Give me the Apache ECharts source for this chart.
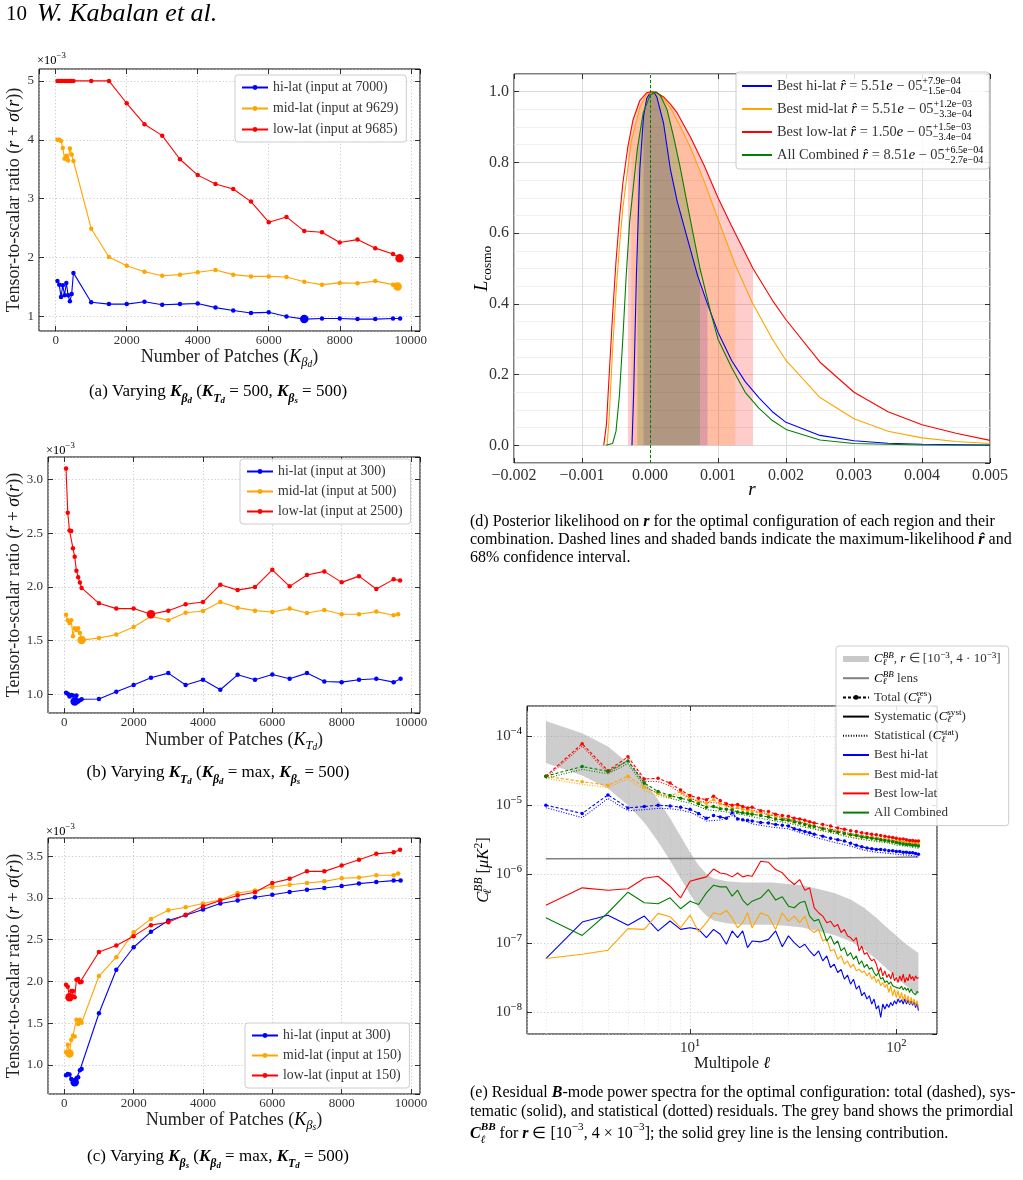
<!DOCTYPE html>
<html>
<head>
<meta charset="utf-8">
<title>Residuals and likelihoods</title>
<script src="https://cdn.jsdelivr.net/npm/echarts@6.0.0/dist/echarts.min.js"></script>
<style>
  html, body { margin: 0; padding: 0; background: #fff; }
  #fig { width: 1023px; height: 1180px; }
</style>
</head>
<body>
<div id="fig"></div>
<script>
// ---------- panels (a)-(c): r + sigma(r) in units of 1e-3 vs number of patches ----------
const patches = [50, 100, 150, 200, 250, 300, 350, 400, 450, 500, 1000, 1500, 2000, 2500, 3000, 3500,
  4000, 4500, 5000, 5500, 6000, 6500, 7000, 7500, 8000, 8500, 9000, 9500];
const maxPatches = [9700, 9629, 9685]; // last point per region: hi, mid, low

const inputA = [7000, 9629, 9685];
const aHi = [1.60, 1.54, 1.33, 1.53, 1.36, 1.57, 1.36, 1.26, 1.38, 1.74, 1.24, 1.21, 1.21, 1.25, 1.20, 1.21, 1.22, 1.15, 1.10, 1.06, 1.07, 1.00, 0.955, 0.965, 0.965, 0.955, 0.955, 0.965, 0.965];
const aMid = [4.00, 4.00, 3.98, 3.86, 3.68, 3.73, 3.65, 3.85, 3.75, 3.64, 2.49, 2.01, 1.86, 1.76, 1.69, 1.71, 1.75, 1.79, 1.71, 1.68, 1.68, 1.67, 1.59, 1.54, 1.57, 1.565, 1.60, 1.54, 1.51];
const aLow = [5, 5, 5, 5, 5, 5, 5, 5, 5, 5, 5.00, 5.00, 4.62, 4.265, 4.07, 3.67, 3.40, 3.25, 3.165, 2.95, 2.60, 2.69, 2.45, 2.43, 2.255, 2.305, 2.16, 2.06, 1.99];

const inputB = [300, 500, 2500];
const bHi = [1.015, 1.005, 0.98, 0.995, 0.99, 0.935, 0.99, 0.935, 0.945, 0.955, 0.957, 1.025, 1.087, 1.155, 1.198, 1.087, 1.136, 1.043, 1.182, 1.136, 1.185, 1.145, 1.198, 1.12, 1.114, 1.136, 1.145, 1.114, 1.145];
const bMid = [1.74, 1.69, 1.665, 1.69, 1.54, 1.615, 1.60, 1.615, 1.57, 1.505, 1.525, 1.556, 1.627, 1.726, 1.689, 1.76, 1.776, 1.859, 1.807, 1.779, 1.767, 1.798, 1.757, 1.785, 1.745, 1.745, 1.77, 1.736, 1.745];
const bLow = [3.10, 2.69, 2.525, 2.52, 2.36, 2.28, 2.15, 2.09, 2.04, 1.99, 1.847, 1.798, 1.798, 1.745, 1.779, 1.838, 1.859, 2.02, 1.97, 1.998, 2.159, 2.005, 2.11, 2.144, 2.042, 2.10, 1.98, 2.07, 2.06];

const inputC = [300, 150, 150];
const cHi = [0.875, 0.89, 0.885, 0.83, 0.81, 0.79, 0.84, 0.85, 0.935, 0.95, 1.618, 2.14, 2.41, 2.595, 2.73, 2.794, 2.862, 2.934, 2.97, 3.01, 3.04, 3.073, 3.10, 3.12, 3.145, 3.173, 3.193, 3.209, 3.209];
const cMid = [1.15, 1.24, 1.135, 1.30, 1.35, 1.34, 1.54, 1.49, 1.54, 1.505, 2.065, 2.29, 2.59, 2.75, 2.854, 2.89, 2.934, 2.98, 3.06, 3.09, 3.133, 3.16, 3.18, 3.20, 3.237, 3.245, 3.273, 3.273, 3.293];
const cLow = [1.96, 1.935, 1.81, 1.885, 1.885, 1.81, 2.02, 2.03, 1.99, 1.995, 2.352, 2.431, 2.543, 2.675, 2.71, 2.80, 2.90, 2.97, 3.03, 3.07, 3.18, 3.23, 3.32, 3.32, 3.39, 3.46, 3.53, 3.55, 3.58];

// ---------- panel (d): posterior likelihood ----------
const rHi = [-0.000265, -0.00024, -0.0002, -0.00015, -0.0000949, -0.00005, 0.0, 0.0000551, 0.0001, 0.0002, 0.0003, 0.0004, 0.0005, 0.0006, 0.0007, 0.000845, 0.001, 0.0012, 0.0014, 0.0016, 0.0018, 0.002, 0.0025, 0.003, 0.0035, 0.004, 0.005];
const lHi = [0, 0.15, 0.48, 0.78, 0.93, 0.98, 0.997, 1.0, 0.985, 0.91, 0.78, 0.69, 0.62, 0.55, 0.48, 0.40, 0.32, 0.24, 0.18, 0.135, 0.095, 0.065, 0.028, 0.013, 0.006, 0.003, 0.0005];
const rMid = [-0.00063, -0.0006, -0.00055, -0.0005, -0.00045, -0.0004, -0.000275, -0.00015, -0.00005, 0.0000551, 0.00015, 0.0003, 0.00045, 0.0006, 0.0008, 0.001, 0.001255, 0.0015, 0.0018, 0.002, 0.0025, 0.003, 0.0035, 0.004, 0.0045, 0.005];
const lMid = [0, 0.08, 0.27, 0.43, 0.56, 0.67, 0.86, 0.955, 0.993, 1.0, 0.99, 0.955, 0.9, 0.84, 0.745, 0.64, 0.51, 0.405, 0.30, 0.24, 0.135, 0.075, 0.04, 0.021, 0.011, 0.005];
const rLow = [-0.00068, -0.00064, -0.0006, -0.00055, -0.0005, -0.00045, -0.0004, -0.000325, -0.00025, -0.00015, -0.00005, 0.000015, 0.0001, 0.0002, 0.0003, 0.0004, 0.0006, 0.0008, 0.001, 0.0012, 0.001515, 0.0018, 0.002, 0.0025, 0.003, 0.0035, 0.004, 0.0045, 0.005];
const lLow = [0, 0.06, 0.2, 0.37, 0.52, 0.64, 0.74, 0.845, 0.92, 0.975, 0.997, 1.0, 0.997, 0.985, 0.965, 0.94, 0.87, 0.79, 0.70, 0.62, 0.50, 0.41, 0.355, 0.235, 0.15, 0.095, 0.058, 0.034, 0.014];
const rAll = [-0.00065, -0.00055, -0.0005, -0.00045, -0.0004, -0.00035, -0.0003, -0.000185, -0.0001, 0.0, 0.0000851, 0.00015, 0.00025, 0.00035, 0.00045, 0.00055, 0.000735, 0.0009, 0.001, 0.0012, 0.0014, 0.0016, 0.0018, 0.002, 0.0025, 0.003, 0.004, 0.005];
const lAll = [0, 0.005, 0.04, 0.14, 0.3, 0.48, 0.63, 0.84, 0.94, 0.99, 1.0, 0.99, 0.95, 0.87, 0.78, 0.68, 0.5, 0.37, 0.30, 0.22, 0.15, 0.105, 0.07, 0.045, 0.015, 0.005, 0.001, 0.0];
// best fit and 68% interval, as in the legend
const rHat = [5.51e-5, 5.51e-5, 1.50e-5, 8.51e-5];   // hi, mid, low, all
const errUp = [7.9e-4, 1.2e-3, 1.5e-3, 6.5e-4];
const errDn = [1.5e-4, 3.3e-4, 3.4e-4, 2.7e-4];

// ---------- panel (e): residual BB spectra ----------
const ellS = [2, 3, 4, 5, 6, 7, 8, 9, 10, 11, 12, 13, 14, 15, 16, 17, 18, 19, 20, 22, 24, 26, 28, 30, 32, 34, 36, 38, 40,
  42, 44, 46, 48, 50, 52, 54, 56, 58, 60, 62, 64, 66, 68, 70, 72, 74, 76, 78, 80, 82, 84, 86, 88, 90, 92, 94, 96, 98, 100,
  102, 104, 106, 108, 110, 112, 114, 116, 118, 120, 122, 124, 126, 128];
const sysHi = [6.01e-8, 2.03e-7, 2.54e-7, 1.82e-7, 2.48e-7, 1.51e-7, 2.10e-7, 1.59e-7, 1.68e-7, 1.59e-7, 1.21e-7, 1.59e-7, 1.35e-7, 9.68e-8, 1.51e-7, 1.21e-7, 1.51e-7, 8.65e-8, 1.08e-7,
  1.05e-7, 1.14e-7, 1.51e-7, 8.91e-8, 1.28e-7, 1.02e-7, 8.65e-8, 9.68e-8, 7.74e-8, 6.56e-8,
  7.74e-8, 5.56e-8, 6.56e-8, 4.46e-8, 4.98e-8, 3.78e-8, 4.17e-8, 3.03e-8, 3.47e-8, 2.56e-8, 3.02e-8, 2.17e-8, 2.43e-8, 1.74e-8, 1.95e-8, 1.56e-8, 1.74e-8, 1.32e-8, 1.56e-8, 1.12e-8, 1.25e-8, 8.47e-9,
  1.32e-8, 1.12e-8, 1.32e-8, 1.18e-8, 1.39e-8, 1.25e-8, 1.47e-8, 1.32e-8, 1.56e-8, 1.39e-8, 1.52e-8, 1.32e-8, 1.56e-8, 1.32e-8, 1.51e-8, 1.29e-8, 1.48e-8, 1.26e-8, 1.45e-8, 1.17e-8, 1.38e-8, 1.06e-8];
const sysMid = [6.01e-8, 6.93e-8, 7.94e-8, 1.63e-7, 1.59e-7, 2.71e-7, 2.43e-7, 1.68e-7, 2.56e-7, 1.46e-7, 1.99e-7, 2.77e-7, 2.62e-7, 2.99e-7, 2.34e-7, 1.68e-7, 1.99e-7, 2.77e-7, 1.68e-7,
  2.77e-7, 2.48e-7, 1.59e-7, 2.77e-7, 2.10e-7, 2.48e-7, 1.99e-7, 2.48e-7, 1.59e-7, 1.43e-7,
  1.58e-7, 1.08e-7, 1.15e-7, 7.74e-8, 8.13e-8, 5.87e-8, 6.61e-8, 4.98e-8, 5.56e-8, 4.46e-8, 4.98e-8, 3.99e-8, 4.22e-8, 3.78e-8, 3.98e-8, 3.38e-8, 3.78e-8, 3.03e-8, 3.38e-8, 2.71e-8, 3.03e-8, 2.43e-8,
  2.71e-8, 2.30e-8, 2.56e-8, 1.94e-8, 2.43e-8, 1.74e-8, 2.17e-8, 1.64e-8, 2.06e-8, 1.56e-8, 1.95e-8, 1.47e-8, 1.84e-8, 1.39e-8, 1.74e-8, 1.32e-8, 1.65e-8, 1.32e-8, 1.56e-8, 1.25e-8, 1.48e-8, 1.18e-8];
const sysLow = [3.57e-7, 6.35e-7, 5.87e-7, 6.17e-7, 8.75e-7, 9.35e-7, 6.71e-7, 4.56e-7, 7.94e-7, 8.57e-7, 9.16e-7, 1.19e-6, 1.04e-6, 1.01e-6, 9.16e-7, 1.04e-6, 9.16e-7, 9.57e-7, 9.35e-7,
  1.54e-6, 1.49e-6, 1.17e-6, 1.05e-6, 8.37e-7, 7.10e-7, 8.37e-7, 5.87e-7, 6.35e-7, 3.27e-7,
  2.77e-7, 2.48e-7, 1.99e-7, 2.09e-7, 1.74e-7, 1.87e-7, 1.43e-7, 1.59e-7, 1.28e-7, 1.21e-7, 1.08e-7, 1.21e-7, 7.76e-8, 9.12e-8, 6.93e-8, 7.33e-8, 6.21e-8, 5.56e-8, 5.89e-8, 4.98e-8, 3.78e-8, 4.46e-8,
  3.38e-8, 3.99e-8, 3.20e-8, 3.57e-8, 3.03e-8, 3.78e-8, 2.86e-8, 3.20e-8, 2.71e-8, 3.38e-8, 2.86e-8, 3.57e-8, 2.71e-8, 3.20e-8, 2.86e-8, 3.57e-8, 3.03e-8, 3.30e-8, 2.86e-8, 3.38e-8, 3.09e-8, 3.20e-8];
const sysAll = [2.34e-7, 1.30e-7, 2.77e-7, 5.50e-7, 3.86e-7, 3.73e-7, 4.56e-7, 3.16e-7, 4.07e-7, 3.65e-7, 5.37e-7, 6.93e-7, 6.56e-7, 6.56e-7, 4.81e-7, 5.87e-7, 4.22e-7, 3.57e-7, 4.07e-7,
  4.56e-7, 6.01e-7, 4.22e-7, 4.71e-7, 3.45e-7, 3.27e-7, 3.86e-7, 4.07e-7, 2.48e-7, 2.10e-7,
  2.22e-7, 1.59e-7, 1.08e-7, 1.28e-7, 9.68e-8, 1.08e-7, 7.74e-8, 8.65e-8, 6.56e-8, 7.33e-8, 5.87e-8, 6.56e-8, 4.98e-8, 5.56e-8, 4.46e-8, 4.98e-8, 4.22e-8, 4.46e-8, 3.78e-8, 3.38e-8, 3.78e-8, 3.03e-8,
  3.20e-8, 2.71e-8, 2.86e-8, 2.56e-8, 2.77e-8, 2.43e-8, 2.56e-8, 2.30e-8, 2.43e-8, 2.22e-8, 2.40e-8, 2.12e-8, 2.29e-8, 2.07e-8, 2.24e-8, 1.94e-8, 2.19e-8, 1.95e-8, 2.04e-8, 1.80e-8, 2.00e-8, 1.94e-8];

const ellT = [2, 3, 4, 5, 6, 7, 8, 9, 10, 11, 12, 13, 14, 15, 16, 17, 18, 19, 20, 22, 24, 26, 28, 30, 32, 34, 36, 38, 40,
  44, 48, 52, 56, 60, 64, 68, 72, 76, 80, 84, 88, 92, 96, 100, 104, 108, 112, 116, 120, 124, 128];
const totHi = [1.00e-5, 7.59e-6, 1.41e-5, 9.12e-6, 9.55e-6, 1.00e-5, 9.77e-6, 9.33e-6, 8.71e-6, 7.59e-6, 6.46e-6, 7.08e-6, 6.76e-6, 6.46e-6, 7.76e-6, 6.31e-6, 6.17e-6, 6.03e-6, 5.89e-6,
  5.62e-6, 5.50e-6, 5.25e-6, 5.13e-6, 5.01e-6, 4.57e-6, 4.37e-6, 4.17e-6, 3.98e-6, 3.80e-6,
  3.55e-6, 3.31e-6, 3.16e-6, 3.02e-6, 2.82e-6, 2.63e-6, 2.51e-6, 2.40e-6, 2.34e-6, 2.29e-6, 2.29e-6, 2.24e-6, 2.19e-6, 2.19e-6, 2.14e-6, 2.14e-6, 2.09e-6, 2.09e-6, 2.04e-6, 2.04e-6, 2.00e-6, 1.95e-6];
const totMid = [2.63e-5, 2.19e-5, 1.95e-5, 2.63e-5, 1.82e-5, 1.48e-5, 1.35e-5, 1.58e-5, 1.26e-5, 1.12e-5, 1.07e-5, 1.20e-5, 1.05e-5, 1.00e-5, 8.91e-6, 9.33e-6, 8.71e-6, 8.32e-6, 8.13e-6,
  7.59e-6, 7.24e-6, 6.92e-6, 6.46e-6, 6.31e-6, 5.89e-6, 5.62e-6, 5.37e-6, 5.13e-6, 5.01e-6,
  4.68e-6, 4.37e-6, 4.17e-6, 3.98e-6, 3.80e-6, 3.72e-6, 3.55e-6, 3.47e-6, 3.39e-6, 3.31e-6, 3.24e-6, 3.16e-6, 3.09e-6, 3.02e-6, 3.02e-6, 2.95e-6, 2.88e-6, 2.88e-6, 2.82e-6, 2.82e-6, 2.75e-6, 2.75e-6];
const totLow = [2.63e-5, 7.76e-5, 3.16e-5, 5.01e-5, 2.40e-5, 2.45e-5, 2.09e-5, 1.66e-5, 1.38e-5, 1.26e-5, 1.20e-5, 1.35e-5, 1.17e-5, 1.05e-5, 1.00e-5, 1.02e-5, 9.55e-6, 9.12e-6, 9.33e-6,
  8.32e-6, 8.13e-6, 7.41e-6, 7.08e-6, 6.92e-6, 6.46e-6, 6.31e-6, 6.03e-6, 5.75e-6, 5.50e-6,
  5.25e-6, 5.01e-6, 4.68e-6, 4.47e-6, 4.27e-6, 4.17e-6, 3.98e-6, 3.89e-6, 3.80e-6, 3.72e-6, 3.63e-6, 3.55e-6, 3.47e-6, 3.39e-6, 3.31e-6, 3.24e-6, 3.24e-6, 3.16e-6, 3.09e-6, 3.09e-6, 3.02e-6, 3.02e-6];
const totAll = [2.63e-5, 3.63e-5, 3.09e-5, 4.37e-5, 2.09e-5, 1.58e-5, 1.38e-5, 1.26e-5, 1.17e-5, 1.05e-5, 9.33e-6, 9.55e-6, 8.91e-6, 8.71e-6, 8.51e-6, 7.94e-6, 7.76e-6, 7.59e-6, 7.41e-6,
  7.08e-6, 6.76e-6, 6.31e-6, 6.17e-6, 6.03e-6, 5.75e-6, 5.50e-6, 5.25e-6, 5.01e-6, 4.90e-6,
  4.57e-6, 4.27e-6, 4.07e-6, 3.89e-6, 3.72e-6, 3.63e-6, 3.47e-6, 3.39e-6, 3.31e-6, 3.24e-6, 3.16e-6, 3.09e-6, 3.02e-6, 2.95e-6, 2.88e-6, 2.82e-6, 2.75e-6, 2.69e-6, 2.69e-6, 2.63e-6, 2.63e-6, 2.57e-6];

const ellD = [2, 3, 4, 5, 6, 7, 8, 9, 10, 11, 12, 14, 16, 20, 25, 30, 35, 40, 50, 60, 70, 80, 90, 100, 110, 120, 128];
const statHi = [9.2e-6, 6.6e-6, 1.25e-5, 8.3e-6, 8.6e-6, 9.0e-6, 8.9e-6, 8.5e-6, 7.9e-6, 6.9e-6, 5.9e-6, 6.1e-6, 7.0e-6, 5.35e-6, 4.8e-6, 4.55e-6, 3.9e-6, 3.45e-6, 2.9e-6, 2.55e-6, 2.22e-6, 2.08e-6, 2.02e-6, 1.95e-6, 1.9e-6, 1.86e-6, 1.8e-6];
const statMid = [2.45e-5, 2.0e-5, 1.8e-5, 2.4e-5, 1.65e-5, 1.35e-5, 1.25e-5, 1.45e-5, 1.15e-5, 1.03e-5, 9.8e-6, 9.6e-6, 8.2e-6, 7.4e-6, 6.5e-6, 5.8e-6, 5.1e-6, 4.6e-6, 4.0e-6, 3.5e-6, 3.2e-6, 3.05e-6, 2.9e-6, 2.78e-6, 2.68e-6, 2.6e-6, 2.55e-6];
const statLow = [2.5e-5, 7.2e-5, 2.9e-5, 4.5e-5, 2.2e-5, 2.2e-5, 1.9e-5, 1.5e-5, 1.25e-5, 1.15e-5, 1.1e-5, 1.07e-5, 9.1e-6, 8.5e-6, 7.2e-6, 6.3e-6, 5.6e-6, 5.0e-6, 4.4e-6, 3.9e-6, 3.6e-6, 3.4e-6, 3.2e-6, 3.05e-6, 2.95e-6, 2.85e-6, 2.8e-6];
const statAll = [2.45e-5, 3.3e-5, 2.85e-5, 4.0e-5, 1.9e-5, 1.45e-5, 1.27e-5, 1.15e-5, 1.07e-5, 9.6e-6, 8.6e-6, 8.2e-6, 7.8e-6, 6.8e-6, 6.0e-6, 5.5e-6, 4.9e-6, 4.5e-6, 3.9e-6, 3.4e-6, 3.15e-6, 2.98e-6, 2.85e-6, 2.65e-6, 2.55e-6, 2.45e-6, 2.38e-6];

// primordial band r in [1e-3, 4e-3] and lensing line
const bandEll = [2, 3, 4, 5, 6, 7, 8, 9, 10, 11, 12, 13, 15, 18, 20, 25, 30, 35, 40, 50, 60, 70, 80, 90, 100, 110, 128];
const bandHi = [1.66e-4, 1.10e-4, 7.08e-5, 4.07e-5, 2.29e-5, 1.20e-5, 6.46e-6, 3.55e-6, 2.09e-6, 1.35e-6, 1.02e-6, 8.71e-7, 7.94e-7, 7.59e-7, 7.59e-7, 7.59e-7, 7.24e-7, 6.92e-7, 6.31e-7, 5.37e-7, 4.32e-7, 3.24e-7, 2.34e-7, 1.70e-7, 1.29e-7, 1.00e-7, 7.24e-8];
const bandLo = [4.07e-5, 2.69e-5, 1.74e-5, 1.00e-5, 5.62e-6, 2.95e-6, 1.58e-6, 8.71e-7, 5.13e-7, 3.31e-7, 2.51e-7, 2.14e-7, 1.95e-7, 1.86e-7, 1.86e-7, 1.86e-7, 1.78e-7, 1.70e-7, 1.55e-7, 1.32e-7, 1.07e-7, 8.13e-8, 5.89e-8, 4.27e-8, 3.16e-8, 2.51e-8, 1.78e-8];
const lensEll = [2, 10, 30, 60, 100, 128];
const lensBB = [1.68e-6, 1.69e-6, 1.70e-6, 1.73e-6, 1.76e-6, 1.78e-6];

// ---------- styling helpers ----------
const FONT = '"Liberation Serif", "Times New Roman", serif';
const COL = { hi: '#0000ff', mid: '#ffa500', low: '#ff0000', all: '#008000' };
const KEYS = ['hi', 'mid', 'low', 'all'];

function rich(fs) {
  const s = fs * 0.7;
  const base = { fontFamily: FONT, color: '#000', fill: '#000' };
  const it = { fontStyle: 'italic' };
  const bd = { fontStyle: 'italic', fontWeight: 'bold' };
  const up = { fontSize: s, verticalAlign: 'top', lineHeight: s };
  const dn = { fontSize: s, verticalAlign: 'bottom', lineHeight: s };
  const mk = (...o) => Object.assign({}, base, ...o);
  return {
    i: mk({ fontSize: fs }, it),
    bi: mk({ fontSize: fs }, bd),
    sup: mk(up), isup: mk(up, it), bsup: mk(up, bd),
    sw: mk(up, { width: 0 }),
    sub: mk(dn), isub: mk(dn, it), bsub: mk(dn, bd),
    isubw: mk(dn, it, { width: 0 }), bsubw: mk(dn, bd, { width: 0 }),
    ss: mk({ fontSize: fs * 0.52, verticalAlign: 'bottom', lineHeight: fs * 0.3 }, it),
    bss: mk({ fontSize: fs * 0.52, verticalAlign: 'bottom', lineHeight: fs * 0.3 }, bd)
  };
}

const grids = [
  { left: 39, top: 69, width: 381, height: 262 },
  { left: 48, top: 457, width: 372, height: 256 },
  { left: 48, top: 838, width: 372, height: 256 },
  { left: 514, top: 74, width: 476, height: 389 },
  { left: 527, top: 706, width: 410, height: 328 }
].map(g => Object.assign(g, { show: true, borderColor: '#000', borderWidth: 1, backgroundColor: 'transparent', containLabel: false, outerBoundsMode: 'none' }));

const dotted = { color: '#bdbdbd', width: 0.8, type: [1.2, 2.2] };
function axis(o) {
  const nfs = o.nfs || 18;
  const a = {
    type: o.type || 'value', gridIndex: o.grid, min: o.min, max: o.max, position: o.pos,
    axisLine: { show: false, onZero: false },
    axisTick: { show: true, inside: true, length: 5, lineStyle: { color: '#000', width: 0.8 } },
    axisLabel: {
      show: true, color: '#333', fontFamily: FONT, fontSize: o.fs, margin: o.margin || 5,
      formatter: o.fmt, showMinLabel: !!o.edge, showMaxLabel: !!o.edge,
      lineHeight: o.lh || o.fs, rich: rich(o.fs)
    },
    splitLine: { show: true, lineStyle: o.line || dotted },
    name: o.name || '', nameLocation: 'middle', nameGap: o.gap, nameMoveOverlap: false,
    nameTextStyle: { fontFamily: FONT, fontSize: nfs, color: '#222', lineHeight: nfs * 1.3, rich: rich(nfs) }
  };
  if (a.type === 'log') a.logBase = 10;
  return a;
}
function mirror(a, pos) {
  return Object.assign({}, a, { position: pos, name: '', axisLabel: { show: false }, splitLine: { show: false } });
}
const intFmt = v => String(Math.round(v));
const oneFmt = v => v.toFixed(1);
const rFmt = v => (v < -1e-12 ? '\u2212' : '') + Math.abs(v).toFixed(3);
function powFmt(v) {
  const e = Math.log10(v), k = Math.round(e);
  if (Math.abs(e - k) > 1e-6) return '';
  return '10{sup|' + (k < 0 ? '\u2212' + (-k) : k) + '}';
}

const yTitle = 'Tensor-to-scalar ratio ({i|r} + {i|\u03c3}({i|r}))';
const xMain = [
  axis({ grid: 0, min: -470, max: 10260, fs: 13, fmt: intFmt, pos: 'bottom', margin: 3, gap: 15, name: 'Number of Patches ({i|K}{isub|\u03b2}{ss|d})' }),
  axis({ grid: 1, min: -470, max: 10260, fs: 13, fmt: intFmt, pos: 'bottom', margin: 3, gap: 16, name: 'Number of Patches ({i|K}{isub|T}{ss|d})' }),
  axis({ grid: 2, min: -470, max: 10260, fs: 13, fmt: intFmt, pos: 'bottom', margin: 3, gap: 15, name: 'Number of Patches ({i|K}{isub|\u03b2}{ss|s})' }),
  axis({ grid: 3, min: -0.002, max: 0.005, fs: 16, fmt: rFmt, pos: 'bottom', margin: 5, gap: 15, edge: true, nfs: 19, name: '{i|r}',
    line: { color: '#d2d2d2', width: 0.8, type: 'solid' } }),
  axis({ grid: 4, type: 'log', min: 1.62, max: 157.5, fs: 15, lh: 21, fmt: powFmt, pos: 'bottom', margin: 4, gap: 19, nfs: 16.5, name: 'Multipole {i|\u2113}',
    line: { color: '#c4c4c4', width: 0.8, type: [1.2, 2.2] } })
];
const yMain = [
  axis({ grid: 0, min: 0.753, max: 5.202, fs: 13, fmt: intFmt, pos: 'left', gap: 13, name: yTitle }),
  axis({ grid: 1, min: 0.827, max: 3.208, fs: 13, fmt: oneFmt, pos: 'left', gap: 22, name: yTitle }),
  axis({ grid: 2, min: 0.65, max: 3.72, fs: 13, fmt: oneFmt, pos: 'left', gap: 22, name: yTitle }),
  axis({ grid: 3, min: -0.05, max: 1.05, fs: 16, fmt: oneFmt, pos: 'left', gap: 20, nfs: 19, name: '{i|L}{sub|cosmo}',
    line: { color: '#d2d2d2', width: 0.8, type: 'solid' } }),
  axis({ grid: 4, type: 'log', min: 4.86e-9, max: 2.73e-4, fs: 15, lh: 21, fmt: powFmt, pos: 'left', margin: 5, gap: 33, nfs: 16.5,
    name: '{i|C}{isubw|\u2113}{isup|BB} [{i|\u03bcK}{sup|2}]', line: { color: '#c4c4c4', width: 0.8, type: [1.2, 2.2] } })
];
const xAxes = xMain.concat(xMain.map(a => mirror(a, 'top')));
const yAxes = yMain.concat(yMain.map(a => mirror(a, 'right')));

// ---------- series ----------
const series = [];
const LABEL = {};

[{ p: 'a', g: 0, vals: [aHi, aMid, aLow], inp: inputA },
 { p: 'b', g: 1, vals: [bHi, bMid, bLow], inp: inputB },
 { p: 'c', g: 2, vals: [cHi, cMid, cLow], inp: inputC }].forEach(pn => {
  ['hi', 'mid', 'low'].forEach((rk, j) => {
    const ks = patches.concat([maxPatches[j]]);
    series.push({
      name: pn.p + rk, type: 'line', xAxisIndex: pn.g, yAxisIndex: pn.g, z: 3 + j,
      symbol: 'circle', symbolSize: 4.5, color: COL[rk],
      lineStyle: { width: 1.1, color: COL[rk] }, itemStyle: { color: COL[rk] },
      data: ks.map((k, i) => k === pn.inp[j] ? { value: [k, pn.vals[j][i]], symbolSize: 8.5 } : [k, pn.vals[j][i]])
    });
    LABEL[pn.p + rk] = rk + '-lat (input at ' + pn.inp[j] + ')';
  });
});

// (d) minor grid
const dMinor = [];
for (let k = -10; k <= 25; k++) if (k % 5 !== 0) dMinor.push({ xAxis: k * 0.0002 });
for (let k = 1; k <= 20; k++) if (k % 4 !== 0) dMinor.push({ yAxis: k * 0.05 });
series.push({ name: 'dGrid', type: 'line', xAxisIndex: 3, yAxisIndex: 3, data: [], silent: true,
  markLine: { silent: true, z: 1, symbol: ['none', 'none'], label: { show: false }, animation: false,
    lineStyle: { color: '#ebebeb', width: 0.8, type: 'solid' }, data: dMinor } });

// (d) shaded 68% bands (drawn in legend order) and curves
const dCurves = { hi: [rHi, lHi], mid: [rMid, lMid], low: [rLow, lLow], all: [rAll, lAll] };
const bandFill = { hi: 'rgba(0,0,255,0.2)', mid: 'rgba(255,165,0,0.2)', low: 'rgba(255,0,0,0.2)', all: 'rgba(0,128,0,0.2)' };
KEYS.forEach((k, j) => {
  const lo = rHat[j] - errDn[j], hi = rHat[j] + errUp[j];
  const rs = dCurves[k][0], ls = dCurves[k][1];
  series.push({
    type: 'custom', xAxisIndex: 3, yAxisIndex: 3, z: 2, silent: true, data: [[0, 0]],
    renderItem: (params, api) => {
      const pts = [];
      rs.forEach((r, i) => { if (r >= lo - 3e-6 && r <= hi + 3e-6) pts.push(api.coord([r, ls[i]])); });
      pts.push(api.coord([hi, 0]));
      pts.push(api.coord([lo, 0]));
      return { type: 'polygon', shape: { points: pts }, style: { fill: bandFill[k] } };
    }
  });
});
KEYS.forEach((k, j) => {
  const rs = dCurves[k][0], ls = dCurves[k][1];
  series.push({
    name: 'd' + k, type: 'line', xAxisIndex: 3, yAxisIndex: 3, z: 4, symbol: 'none', color: COL[k],
    lineStyle: { width: 1.1, color: COL[k] }, itemStyle: { color: COL[k] },
    data: rs.map((r, i) => [r, ls[i]]),
    markLine: { silent: true, z: 5, symbol: ['none', 'none'], label: { show: false }, animation: false,
      lineStyle: { color: COL[k], width: 1, type: [3, 2] }, data: [{ xAxis: rHat[j] }] }
  });
});
const fmtE = v => { const e = Math.floor(Math.log10(Math.abs(v)) + 1e-9); const m = v / Math.pow(10, e);
  return (v < 0 ? '\u2212' : '+') + Math.abs(m).toFixed(1) + 'e\u2212' + String(-e).padStart(2, '0'); };
const dNames = ['Best hi-lat', 'Best mid-lat', 'Best low-lat', 'All Combined'];
KEYS.forEach((k, j) => {
  const e = Math.floor(Math.log10(rHat[j]) + 1e-9);
  const m = (rHat[j] / Math.pow(10, e)).toFixed(2);
  LABEL['d' + k] = dNames[j] + ' {i|r\u0302} = ' + m + '{i|e} \u2212 ' + String(-e).padStart(2, '0') +
    '{sw|' + fmtE(errUp[j]) + '}{sub|' + fmtE(-errDn[j]) + '}';
});

// (e) minor grid
const eMinor = [];
[2, 3, 4, 5, 6, 7, 8, 9, 20, 30, 40, 50, 60, 70, 80, 90].forEach(v => eMinor.push({ xAxis: v }));
for (let e = -9; e <= -4; e++) for (let m = 2; m <= 9; m++) {
  const v = m * Math.pow(10, e);
  if (v > 4.86e-9 && v < 2.73e-4) eMinor.push({ yAxis: v });
}
series.push({ name: 'eGrid', type: 'line', xAxisIndex: 4, yAxisIndex: 4, data: [], silent: true,
  markLine: { silent: true, z: 1, symbol: ['none', 'none'], label: { show: false }, animation: false,
    lineStyle: { color: '#dedede', width: 0.7, type: [1.2, 2.2] }, data: eMinor } });

series.push({
  name: 'eBand', type: 'custom', xAxisIndex: 4, yAxisIndex: 4, z: 2, silent: true, data: [[10, 1e-6]],
  itemStyle: { color: '#c9c9c9' },
  renderItem: (params, api) => {
    const pts = bandEll.map((l, i) => api.coord([l, bandHi[i]]));
    for (let i = bandEll.length - 1; i >= 0; i--) pts.push(api.coord([bandEll[i], bandLo[i]]));
    return { type: 'polygon', shape: { points: pts }, style: { fill: 'rgba(150,150,150,0.48)' } };
  }
});
series.push({ name: 'eLens', type: 'line', xAxisIndex: 4, yAxisIndex: 4, z: 3, symbol: 'none', color: '#808080',
  lineStyle: { width: 1.6, color: '#808080' }, data: lensEll.map((l, i) => [l, lensBB[i]]) });

const eSets = { hi: [sysHi, totHi, statHi], mid: [sysMid, totMid, statMid], low: [sysLow, totLow, statLow], all: [sysAll, totAll, statAll] };
KEYS.forEach(k => {
  const [sys, tot, stat] = eSets[k];
  series.push({ name: 'eSys' + k, type: 'line', xAxisIndex: 4, yAxisIndex: 4, z: 3, symbol: 'none', color: COL[k],
    lineStyle: { width: 1.1, color: COL[k] }, data: ellS.map((l, i) => [l, sys[i]]) });
  series.push({ name: 'eTot' + k, type: 'line', xAxisIndex: 4, yAxisIndex: 4, z: 4, symbol: 'circle', symbolSize: 3.5, color: COL[k],
    lineStyle: { width: 1.1, color: COL[k], type: [3, 2] }, itemStyle: { color: COL[k] }, data: ellT.map((l, i) => [l, tot[i]]) });
  series.push({ name: 'eStat' + k, type: 'line', xAxisIndex: 4, yAxisIndex: 4, z: 4, symbol: 'none', color: COL[k],
    lineStyle: { width: 1.1, color: COL[k], type: [1, 1.6] }, data: ellD.map((l, i) => [l, stat[i]]) });
});
// legend-only entries for panel (e)
const legendOnly = [
  { name: 'eTot', color: '#000', type: [3, 2], symbol: 'circle', width: 1.1 },
  { name: 'eSys', color: '#000', type: 'solid', symbol: 'none', width: 1.1 },
  { name: 'eStat', color: '#000', type: [1, 1.6], symbol: 'none', width: 1.1 },
  { name: 'eHi', color: COL.hi, type: 'solid', symbol: 'none', width: 2 },
  { name: 'eMid', color: COL.mid, type: 'solid', symbol: 'none', width: 2 },
  { name: 'eLow', color: COL.low, type: 'solid', symbol: 'none', width: 2 },
  { name: 'eAll', color: COL.all, type: 'solid', symbol: 'none', width: 2 }
];
legendOnly.forEach(s => series.push({ name: s.name, type: 'line', xAxisIndex: 4, yAxisIndex: 4, data: [],
  symbol: s.symbol, symbolSize: 4, color: s.color, itemStyle: { color: s.color },
  lineStyle: { color: s.color, width: s.width, type: s.type } }));
Object.assign(LABEL, {
  eBand: '{i|C}{isubw|\u2113}{isup|BB}, {i|r} \u2208 [10{sup|\u22123}, 4 \u00b7 10{sup|\u22123}]',
  eLens: '{i|C}{isubw|\u2113}{isup|BB} lens',
  eTot: 'Total ({i|C}{isubw|\u2113}{sup|res})',
  eSys: 'Systematic ({i|C}{isubw|\u2113}{sup|syst})',
  eStat: 'Statistical ({i|C}{isubw|\u2113}{sup|stat})',
  eHi: 'Best hi-lat', eMid: 'Best mid-lat', eLow: 'Best low-lat', eAll: 'All Combined'
});

// ---------- legends ----------
function legendBox(left, top, data, fs, lh, gap, iw, ih, pad) {
  return {
    left, top, orient: 'vertical', align: 'left', data, selectedMode: false,
    formatter: n => LABEL[n], itemWidth: iw, itemHeight: ih, itemGap: gap, padding: pad,
    backgroundColor: 'rgba(255,255,255,0.85)', borderColor: '#cccccc', borderWidth: 1, borderRadius: 3,
    textStyle: { fontFamily: FONT, fontSize: fs, color: '#333', lineHeight: lh, rich: rich(fs) }
  };
}
const noMark = n => ({ name: n, itemStyle: { opacity: 0 } });
const legends = [
  legendBox(235, 75, ['ahi', 'amid', 'alow'], 13.8, 15, 6, 26, 6, [5, 8, 5, 6]),
  legendBox(240, 459, ['bhi', 'bmid', 'blow'], 13.8, 15, 5, 26, 6, [5, 8, 5, 6]),
  legendBox(245, 1023, ['chi', 'cmid', 'clow'], 13.8, 15, 5, 26, 6, [5, 8, 5, 6]),
  legendBox(736, 72, KEYS.map(k => noMark('d' + k)), 14.4, 20, 3, 30, 8, [4, 6, 4, 5]),
  legendBox(836, 646, [{ name: 'eBand', icon: 'rect', itemStyle: { color: '#c9c9c9' } },
    noMark('eLens'), 'eTot', noMark('eSys'), noMark('eStat'), noMark('eHi'), noMark('eMid'), noMark('eLow'), noMark('eAll')],
    13, 16, 3.2, 26, 6, [5, 8, 5, 6])
];

// ---------- texts outside the plots ----------
function gtext(x, y, text, fs, align, extra) {
  return { type: 'text', x, y, silent: true, z: 10,
    style: Object.assign({ text, fontFamily: FONT, fontSize: fs, fill: '#000',
      align: align || 'left', textAlign: align || 'left', verticalAlign: 'middle', textVerticalAlign: 'middle',
      lineHeight: fs * 1.5, rich: rich(fs) }, extra || {}) };
}
const graphics = [
  gtext(6, 14, '10', 21),
  gtext(37, 14, 'W. Kabalan et al.', 26, 'left', { fontStyle: 'italic' }),
  gtext(37, 61, '\u00d710{sup|\u22123}', 12.5),
  gtext(46, 451, '\u00d710{sup|\u22123}', 12.5),
  gtext(46, 832, '\u00d710{sup|\u22123}', 12.5),
  gtext(218, 392, '(a) Varying {bi|K}{bsub|\u03b2}{bss|d} ({bi|K}{bsub|T}{bss|d} = 500, {bi|K}{bsub|\u03b2}{bss|s} = 500)', 17, 'center'),
  gtext(218, 773, '(b) Varying {bi|K}{bsub|T}{bss|d} ({bi|K}{bsub|\u03b2}{bss|d} = max, {bi|K}{bsub|\u03b2}{bss|s} = 500)', 17, 'center'),
  gtext(218, 1157, '(c) Varying {bi|K}{bsub|\u03b2}{bss|s} ({bi|K}{bsub|\u03b2}{bss|d} = max, {bi|K}{bsub|T}{bss|d} = 500)', 17, 'center'),
  gtext(470, 522, '(d) Posterior likelihood on {bi|r} for the optimal configuration of each region and their', 16),
  gtext(470, 540, 'combination. Dashed lines and shaded bands indicate the maximum-likelihood {bi|r\u0302} and', 16),
  gtext(470, 558, '68% confidence interval.', 16),
  gtext(470, 1093, '(e) Residual {bi|B}-mode power spectra for the optimal configuration: total (dashed), sys-', 16),
  gtext(470, 1112, 'tematic (solid), and statistical (dotted) residuals. The grey band shows the primordial', 16),
  gtext(470, 1134, '{bi|C}{bsubw|\u2113}{bsup|BB} for {bi|r} \u2208 [10{sup|\u22123}, 4 \u00d7 10{sup|\u22123}]; the solid grey line is the lensing contribution.', 16)
];

const chart = echarts.init(document.getElementById('fig'), null, { renderer: 'canvas' });
chart.setOption({
  animation: false,
  backgroundColor: '#ffffff',
  textStyle: { fontFamily: FONT },
  grid: grids,
  xAxis: xAxes,
  yAxis: yAxes,
  legend: legends,
  series: series,
  graphic: graphics
});
</script>
</body>
</html>
